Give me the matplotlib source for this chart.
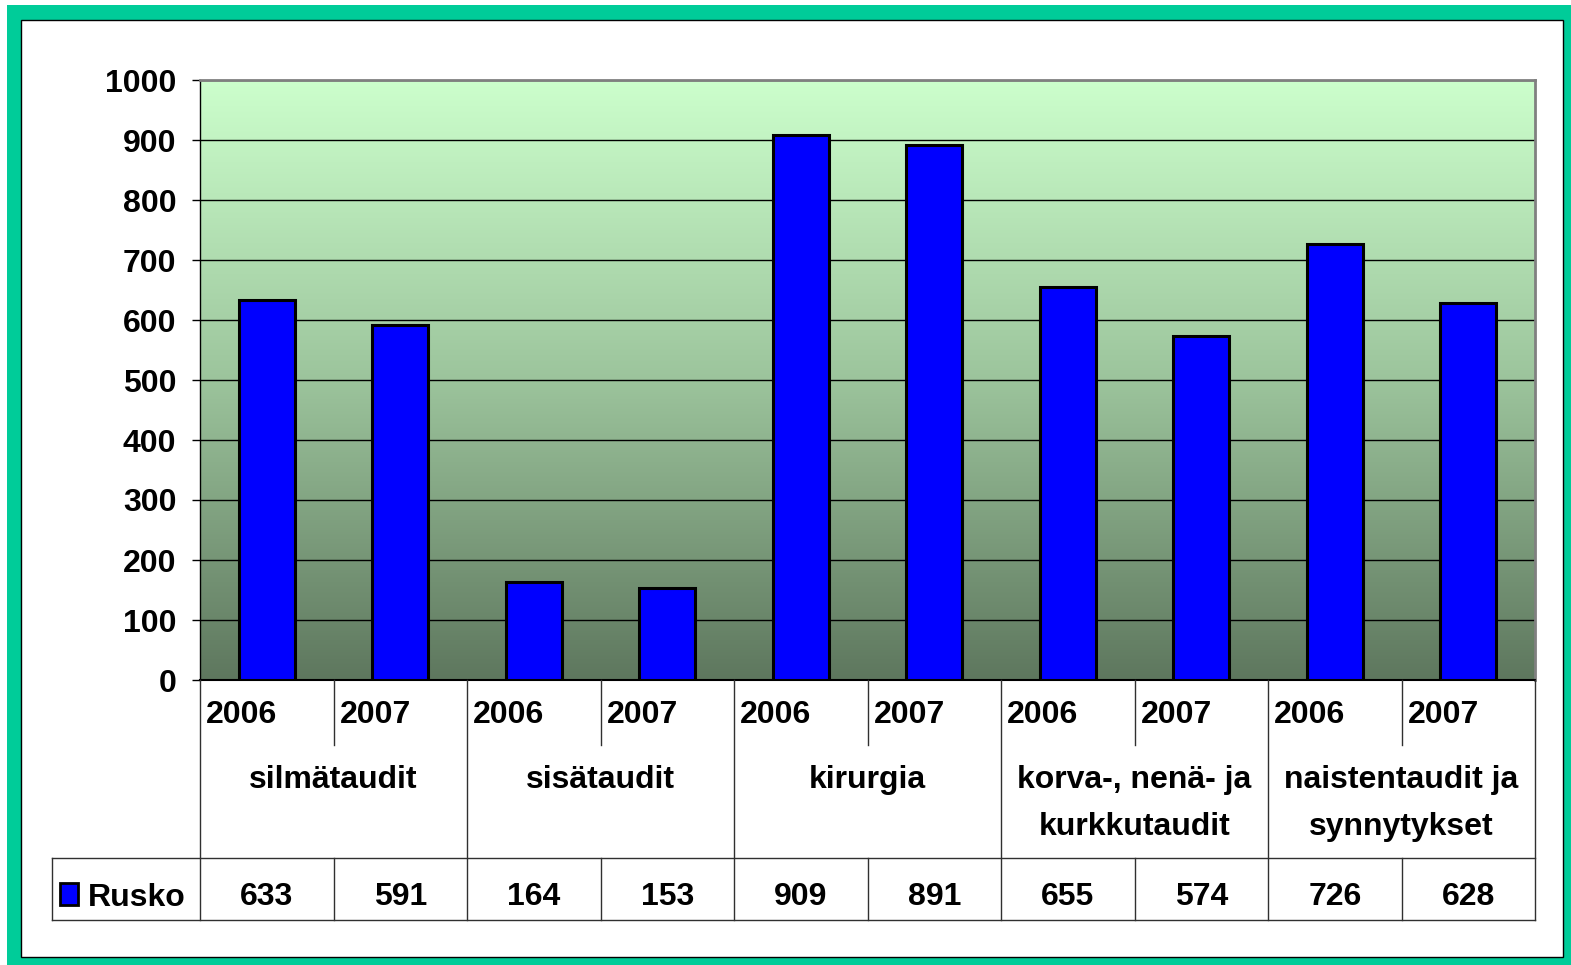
import numpy as np
import matplotlib.pyplot as plt
from matplotlib.patches import Rectangle
from matplotlib.colors import LinearSegmentedColormap

W, H = 1571, 965
plt.rcParams['font.family'] = ['Liberation Sans', 'DejaVu Sans']
plt.rcParams['font.weight'] = 'bold'

# data
kategoriat = ['silmätaudit', 'sisätaudit', 'kirurgia',
              'korva-, nenä- ja\nkurkkutaudit', 'naistentaudit ja\nsynnytykset']
vuodet = ['2006', '2007']
rusko = [633, 591, 164, 153, 909, 891, 655, 574, 726, 628]
sarja = 'Rusko'
yticks = np.arange(0, 1001, 100)

FS = 23
fig = plt.figure(figsize=(W/100, H/100), dpi=100)

def px(x0, y0, x1, y1):
    return [x0/W, 1-y1/H, (x1-x0)/W, (y1-y0)/H]

# teal frame + white inner box
fig.add_artist(Rectangle((7/W, 0), 1-7/W, 1-5/H, transform=fig.transFigure,
                         facecolor='#00CC99', edgecolor='none', zorder=0))
fig.add_artist(Rectangle((21/W, 1-957/H), (1563-21)/W, (957-20)/H, transform=fig.transFigure,
                         facecolor='white', edgecolor='black', lw=1, zorder=0))

#--- plot area
ax = fig.add_axes(px(200, 80, 1535, 680))
n = len(rusko)
x = np.arange(n)
ax.set_xlim(-0.5, n-0.5)
ax.set_ylim(yticks[0], yticks[-1])
cmap = LinearSegmentedColormap.from_list('g', ['#5E775E', '#9CC49C', '#CCFFCC'])
ax.imshow(np.linspace(0, 1, 256)[:, None], cmap=cmap, origin='lower', aspect='auto',
          extent=(-0.5, n-0.5, yticks[0], yticks[-1]), zorder=0)
ax.set_yticks(yticks)
ax.yaxis.grid(True, color='black', lw=1)
ax.set_xticks([])
ax.tick_params(axis='y', direction='out', length=6, width=1, pad=11, labelsize=FS)
for s in ['top', 'right']:
    ax.spines[s].set_color('#808080')
    ax.spines[s].set_linewidth(2)
ax.spines['left'].set_linewidth(1)
ax.spines['bottom'].set_linewidth(1.5)
ax.bar(x, rusko, width=0.42, color='#0000FF', edgecolor='black', lw=2.2, zorder=3)

#--- data table under the axis
tax = fig.add_axes(px(52, 680, 1535, 920))
tax.set_facecolor('none')
tax.axis('off')
left = -0.5 - 148/133.5
tax.set_xlim(left, n-0.5)
tax.set_ylim(240, 0)
lc = '#303030'
def viiva(xs, ys):
    tax.plot(xs, ys, color=lc, lw=1, clip_on=False)
for k in range(len(kategoriat)+1):
    viiva([-0.5+2*k]*2, [0, 240])
for k in range(len(kategoriat)):
    viiva([0.5+2*k]*2, [0, 65])
    viiva([0.5+2*k]*2, [178, 240])
viiva([left, n-0.5], [178, 178])
viiva([left, n-0.5], [240, 240])
viiva([left, left], [178, 240])

for i in range(n):
    tax.text(i-0.5+6/133.5, 43, vuodet[i % 2], ha='left', va='baseline', fontsize=FS)
    tax.text(i, 225, str(rusko[i]), ha='center', va='baseline', fontsize=FS)
for k, lab in enumerate(kategoriat):
    for j, line in enumerate(lab.split('\n')):
        tax.text(2*k+0.5, 108+47*j, line, ha='center', va='baseline', fontsize=FS)

fig.add_artist(Rectangle((60/W, 1-905/H), 18/W, 22/H, transform=fig.transFigure,
                         facecolor='#0000FF', edgecolor='black', lw=2, zorder=5))
fig.text(88/W, 1-906/H, sarja, ha='left', va='baseline', fontsize=FS)

fig.savefig('out.png', dpi=100)
